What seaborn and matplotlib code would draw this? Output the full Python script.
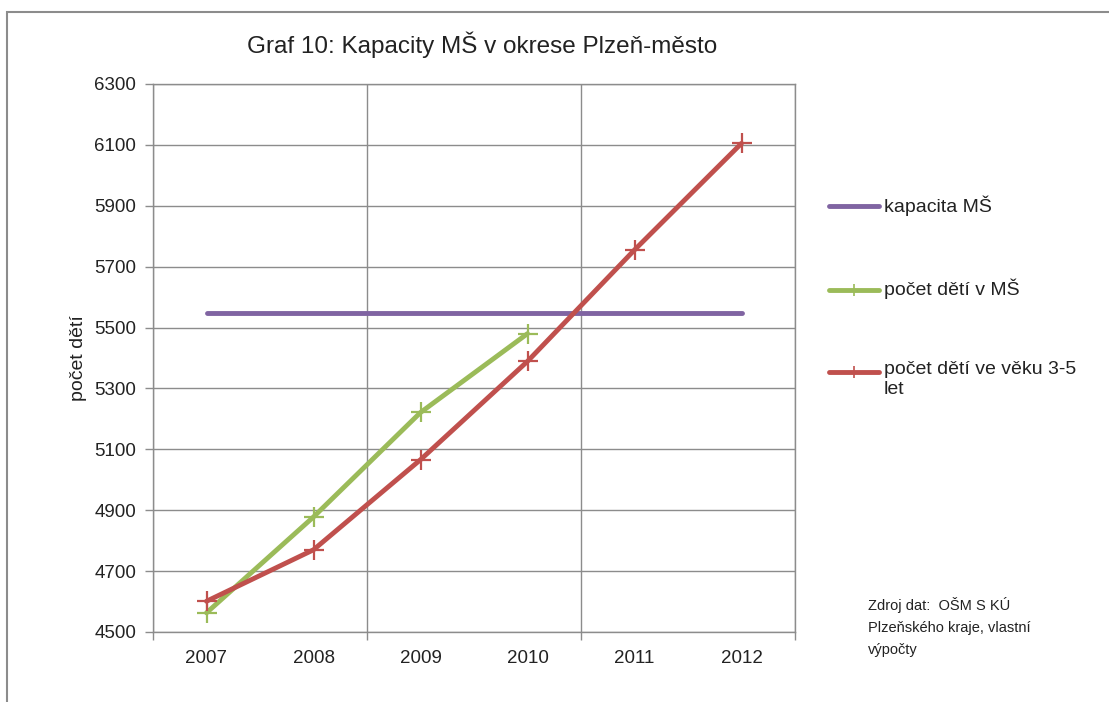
import matplotlib
matplotlib.use("Agg")
import matplotlib.pyplot as plt
import matplotlib.patches as mpatches
from matplotlib.lines import Line2D
import seaborn as sns
import pandas as pd

# data
years = ["2007", "2008", "2009", "2010", "2011", "2012"]
kapacita = [5548, 5548, 5548, 5548, 5548, 5548]
deti_v_ms = [4563, 4878, 5221, 5480, None, None]
deti_3_5 = [4601, 4770, 5066, 5389, 5755, 6105]
y_ticks = list(range(4500, 6301, 200))

labels = ["kapacita MŠ", "počet dětí v MŠ", "počet dětí ve věku 3-5\nlet"]
colors = ["#8064A2", "#9BBB59", "#C0504D"]
grid_col = "#8C8C8C"
text_col = "#222222"

W, H = 1109, 702

sns.set_style("white")
plt.rcParams["font.family"] = ["Liberation Sans", "DejaVu Sans"]

df = pd.DataFrame({
    "pos": range(len(years)),
    labels[0]: kapacita,
    labels[1]: deti_v_ms,
    labels[2]: deti_3_5,
})

fig = plt.figure(figsize=(W / 100, H / 100), dpi=100)
ax = fig.add_axes([153 / W, 1 - 632 / H, (795 - 153) / W, (632 - 84) / H])


def fx(px):
    return px / W


def fy(py):
    return 1 - py / H


# outer chart border (left and top visible only)
fig.patches.append(mpatches.Rectangle((fx(7), -0.5), 2.0, fy(12) + 0.5,
                                      transform=fig.transFigure, fill=False,
                                      edgecolor=grid_col, linewidth=1.5))

for lab, col in zip(labels, colors):
    sub = df[["pos", lab]].dropna()
    has_marker = lab != labels[0]
    sns.lineplot(data=sub, x="pos", y=lab, ax=ax, color=col, linewidth=3.5,
                 marker="+" if has_marker else None, markersize=14,
                 markeredgewidth=1.6, markeredgecolor=col,
                 solid_capstyle="round", legend=False)

ax.set_xlim(-0.5, 5.5)
ax.set_ylim(4500, 6300)
ax.set_yticks(y_ticks)
ax.set_yticklabels([str(v) for v in y_ticks], fontsize=13.5, color=text_col)

# category boundaries as major ticks, year labels as minor ticks
ax.set_xticks([-0.5, 1.5, 3.5, 5.5])
ax.set_xticklabels([])
ax.set_xticks(range(len(years)), minor=True)
ax.set_xticklabels(years, minor=True, fontsize=13.5, color=text_col)
ax.tick_params(axis="x", which="minor", length=0, pad=13)
ax.tick_params(axis="x", which="major", length=6, width=1, color=grid_col, direction="out")
ax.tick_params(axis="y", length=6, width=1, color=grid_col, direction="out", pad=6)
ax.tick_params(left=True, bottom=True)

ax.grid(True, which="major", color=grid_col, linewidth=1)
for s in ax.spines.values():
    s.set_color(grid_col)
    s.set_linewidth(1)

ax.set_xlabel("")
ax.set_ylabel("počet dětí", fontsize=14, color=text_col, labelpad=5)

# legend drawn by hand so the wrapped label hangs below its line
leg_y = [206, 290, 372]
for lab, col, py in zip(labels, colors, leg_y):
    has_marker = lab != labels[0]
    fig.add_artist(Line2D([fx(829), fx(879)], [fy(py), fy(py)], color=col,
                          linewidth=3.5, solid_capstyle="round"))
    if has_marker:
        fig.add_artist(Line2D([fx(854)], [fy(py)], color=col, marker="|",
                              markersize=9, markeredgewidth=1.2))
    fig.text(fx(884), fy(py - 11), lab, ha="left", va="top", fontsize=14,
             color=text_col, linespacing=1.25)

fig.text(fx(482), fy(45), "Graf 10: Kapacity MŠ v okrese Plzeň-město",
         ha="center", va="center", fontsize=17.5, color=text_col)
fig.text(fx(868), fy(597), "Zdroj dat:  OŠM S KÚ\nPlzeňského kraje, vlastní\nvýpočty",
         ha="left", va="top", fontsize=10.5, color=text_col, linespacing=1.72)

fig.savefig("out.png", dpi=100)
